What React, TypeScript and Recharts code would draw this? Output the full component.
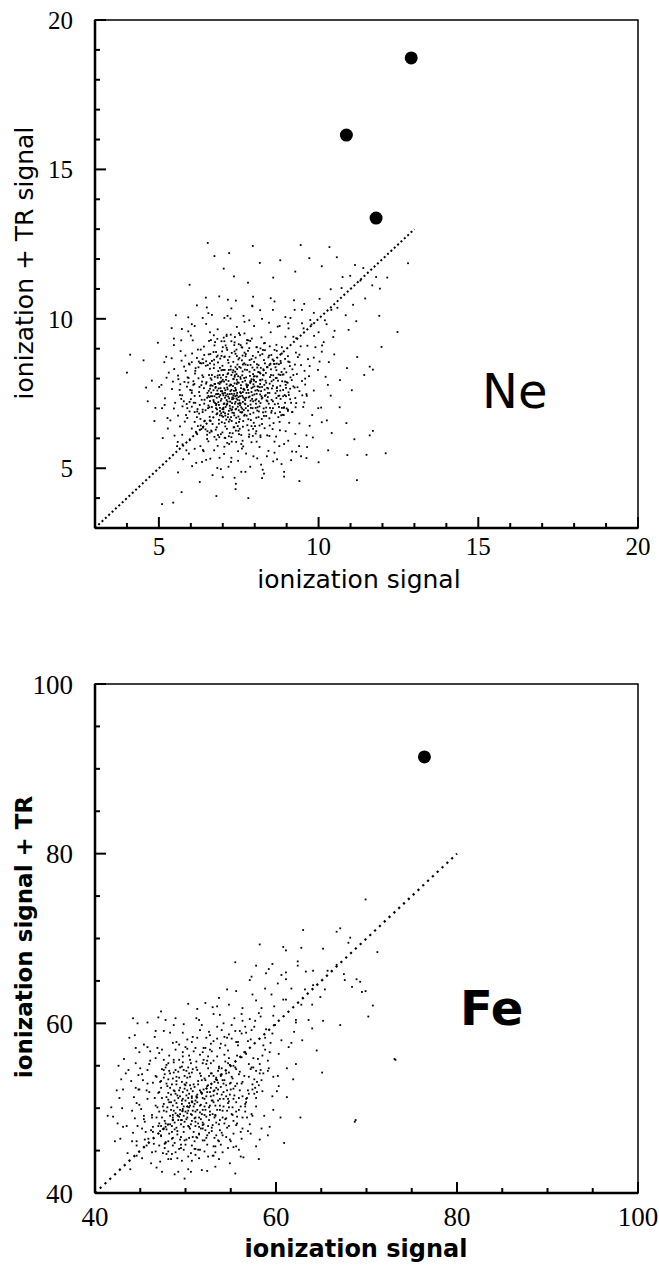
import React from 'react';
import { ScatterChart, Scatter, XAxis, YAxis, ReferenceLine, ReferenceArea, Label } from 'recharts';

// ---------- Ne panel data (ionization signal, ionization + TR signal) ----------
const neTicks = [3, 4, 5, 6, 7, 8, 9, 10, 11, 12, 13, 14, 15, 16, 17, 18, 19, 20];
const neTickLabels = [5, 10, 15, 20];
const neSignal = [
  { x: 12.9, y: 18.73 },
  { x: 10.87, y: 16.15 },
  { x: 11.8, y: 13.37 },
];
const neDiag = [{ x: 3, y: 3 }, { x: 13, y: 13 }];
// background events, values in hundredths ("x:y")
const neCore = `745:752 712:781 768:733 731:705 790:768 702:744 756:799 688:712 821:741 739:823 677:769 803:702 761:688 724:758 795:815 658:738 836:786 716:671 771:847 694:803 748:716 812:759 683:684 729:731 857:724 706:829 779:778 665:796 742:669 826:812 698:758 754:741 719:692 787:726 672:722 804:789 737:784 761:811 691:677 846:752 715:748 772:701 664:753 793:837 727:812 750:694 681:736 818:718 705:717 766:765 733:856 799:747 648:783 775:676 710:796 836:703 686:825 743:733 757:778 722:663 809:774 697:791 869:768 740:838 679:701 785:809 714:716 763:722 673:847 827:831 701:672 748:808 796:686 735:759 658:704 781:752 708:761 841:738 719:829 770:793 692:745 753:664 817:795 687:767 729:697 805:731 760:861 666:812 744:782 788:702 717:740 831:763 699:698 776:829 738:716 663:741 812:845 724:780 752:727 685:854 794:771 707:684 859:796 733:743 769:679 676:782 800:808 740:697 715:815 784:740 656:759 826:687 746:847 696:732 763:755 722:709 851:831 682:697 789:791 731:821 758:704 705:768 815:707 671:761 778:845 749:738 690:812 802:760 736:677 767:802 712:728 839:769 660:725 795:724 727:762 744:875 683:748 808:837 755:688 718:792 773:736 699:843 786:681 741:760 668:689 824:797 709:705 762:824 693:768 844:716 730:686 779:762 675:806 752:839 720:734 798:793 706:651 865:751 734:798 761:742 686:721 816:771 747:706 701:812 784:823 726:671 771:714 663:778 832:742 738:811 694:726 808:693 757:768 716:862 790:755 680:715 746:729 721:776 853:791 702:697 767:851 736:749 692:789 813:724 759:686 674:741 797:807 729:718 744:796 710:743 830:779 688:662 776:771 740:722 662:801 819:836 714:770 754:711 699:751 787:713 733:828 768:762 678:772 806:749 723:700 750:786 696:828 842:767 717:681 764:737 684:810 793:744 741:763 707:736 828:811 671:728 779:693 735:685 756:836 691:702 811:773 728:749 749:673 704:790 799:829 660:766 770:728 737:806 683:760 822:733 715:723 757:751 697:676 848:805 725:841 774:781 689:739 742:699 808:762 711:806 766:695 676:718 790:798 732:775 753:718 701:750 834:745 719:656 762:789 686:785 804:716 743:815 694:758 781:737 727:694 652:752 817:782 739:741 769:830`;
const neBody = `612:742 624:801 637:688 641:768 653:845 659:672 667:741 671:889 678:629 684:803 692:867 697:654 703:715 709:911 713:632 718:853 726:779 731:617 737:891 742:651 749:864 753:632 759:905 764:658 771:875 777:644 783:902 788:661 794:876 801:641 806:905 812:671 817:878 823:648 829:862 834:689 840:838 846:667 851:812 857:701 862:849 868:735 873:793 879:688 884:822 889:762 895:719 900:788 906:754 911:731 916:795 603:706 608:779 614:826 619:671 626:755 631:643 636:811 643:729 648:858 654:701 661:776 665:623 672:835 679:748 685:611 690:782 696:925 702:688 707:752 714:896 719:607 725:830 730:737 736:912 741:626 746:788 752:869 758:611 763:847 769:716 775:918 781:627 786:791 792:732 798:856 803:616 809:704 815:821 820:758 826:896 831:634 837:727 843:871 848:702 854:767 859:651 865:838 870:771 876:705 881:859 887:679 893:833 898:741 904:692 909:855 914:719 628:712 633:778 639:852 646:694 651:736 657:812 662:658 668:776 673:863 679:711 686:749 691:836 695:684 700:796 706:874 711:663 717:818 722:748 728:886 734:637 739:769 745:832 751:655 756:717 762:877 767:676 773:804 779:708 784:862 790:641 796:781 802:727 807:848 813:690 818:794 824:736 829:675 835:819 841:752 847:783 853:729 858:811 864:684 870:759 875:814 881:732 886:791 892:704 897:779 629:852 634:729 642:657 649:788 655:742 660:851 666:705 674:782 681:873 688:649 694:787 701:829 708:676 715:764 721:873 728:658 733:799 740:883 747:641 755:805 761:699 768:887 774:752 780:664 787:846 793:701 799:774 805:669 811:822 817:747 823:772 828:700 834:793 840:724 846:845 852:686 857:776 863:714 869:802 874:742 880:776 885:702 890:814 659:619 676:922 712:942 754:946 791:934 832:919 862:896 895:866 921:774 928:704 908:652 879:627 846:608 806:589 764:573 720:581 684:575 651:612 622:641 596:722 592:787 603:855 631:897`;
const neRing = `910:842 925:770 918:688 897:624 862:589 815:571 760:566 705:572 655:590 616:622 589:668 578:724 580:789 594:850 622:897 663:929 712:947 768:951 821:938 868:913 904:875 940:880 958:800 955:720 940:650 905:592 862:552 808:533 748:525 690:535 640:557 597:594 566:640 547:700 541:765 548:832 568:892 600:944 648:983 705:1003 765:1010 823:1000 878:976 921:940 972:842 985:760 980:678 962:610 930:555 884:514 825:495 758:488 694:497 635:521 586:560 549:609 527:668 519:734 524:803 540:868 570:928 612:976 666:1013 727:1035 793:1042 857:1030 912:1003 953:968 990:905 885:905 932:815 949:744 927:615 877:574 838:540 773:549 727:535 673:560 630:574 603:633 560:676 566:745 560:810 583:877 641:907 684:965 744:973 798:976 850:955 896:940 967:865 963:742 939:574 858:523 786:505 718:505 648:528 612:565 573:612 551:719 544:790 571:860 606:928 660:955 724:1001 783:995 845:987 906:968 944:908 998:829 999:701 972:642 914:527 829:482 737:468 668:477 604:507 557:574 528:633 510:701 508:779 517:855 547:912 592:958 650:1038 716:1064 795:1074 862:1058 925:1030 978:981 1016:922 1032:855 1029:779 1010:654 962:534 892:472 880:812 894:745 883:677 856:631 818:604 762:592 708:601 664:626 630:665 614:719 611:782 624:838 656:881 700:905 750:915 806:905 852:879 869:850 895:790 900:700 867:606 790:587 728:589 674:605 638:636 620:690 603:752 613:817 637:865 679:889 727:925 780:928 832:895 876:848 930:935 965:910 1000:955 948:985 985:1020 1020:995 905:985 955:1050 1040:1030 1010:890 1050:960 985:870`;
const neMid = `598:762 621:698 889:741 912:804 615:835 878:655 633:631 742:588 756:912 587:715 905:857 642:879 869:893 706:602 794:608 567:781 934:771 628:742 891:702 674:911 818:901 612:655 956:826 703:937 783:613 584:826 847:643 651:598 927:735 737:921 596:690 882:852 661:882 758:581 608:791 917:688 689:604 829:918 573:744 948:792 644:659 805:624 725:947 633:851 898:769 681:637 868:828 609:719 779:893 714:585 926:847 590:804 845:877 657:926 962:748 626:683 797:652 698:891 873:716 565:762 751:614 935:872 639:805 822:665 705:925 585:678 887:813 668:648 811:889 743:897 596:847 952:705 652:624 776:929 627:772 903:786 684:877 839:610 574:707 763:639 918:831 619:869 727:604 856:864 642:716 891:678 699:620 832:851 561:798 786:926 647:843 970:808 712:903 600:731 877:743 736:637 824:882 581:656 940:758 666:859 795:632 620:614 885:884 705:872 853:692 588:773 761:904 930:718 637:696 818:610 683:933 911:766 604:884 749:625 866:802 570:732 790:865 655:710 945:845 722:618 836:675 593:802 899:821 680:596 772:882 625:857 958:780 708:640 847:908 612:688 880:760 738:939 579:840 904:696 660:833 815:643 696:876 921:812 646:630 782:605 861:849 603:760 929:887 672:945 803:870 589:701 751:952 874:671 635:790 907:745 694:614`;
const neOuter = `452:861 478:793 501:772 523:873 536:660 489:702 547:934 512:601 465:724 559:588 540:969 497:920 531:820 574:580 553:1012 486:658 518:712 592:1005 572:966 603:982 619:1045 637:1003 655:1019 689:1075 715:1010 741:1061 768:990 792:1044 817:1029 850:1069 872:974 896:1006 923:1062 948:1030 974:996 986:943 1003:1067 1011:911 1025:982 1038:1099 1046:939 1059:1037 1072:1103 1085:1012 1094:963 1108:1047 1118:992 1131:1128 1146:1068 1168:1112 1192:1101 1003:857 1022:806 1038:743 1049:881 1067:795 1089:835 1104:761 1121:872 1143:812 1160:840 1008:703 1026:660 1041:618 1066:704 1087:651 1112:597 1150:545 982:603 964:571 945:540 917:556 892:581 870:530 843:558 820:512 796:540 771:488 748:557 726:521 704:548 683:501 661:532 638:561 617:518 594:549 576:530 560:486 700:470 741:448 823:467 628:454 680:407 571:420 545:385 892:488 940:457 1000:520 1030:560 1120:460 596:1114 647:1071 703:1168 735:1142 779:1121 816:1187 858:1138 880:1196 927:1158 971:1203 1010:1176 1057:1206 1099:1144 1114:1180 674:1210 1160:610`;
const neStray = `410:880 400:820 460:770 510:380 740:430 780:400 653:1254 794:1244 944:1247 1034:1240 720:1220 1190:1010 1247:956 1197:906 1170:830 1210:550 1170:625 1090:544 1140:1170 1280:1186 1075:1140 1180:1140 1215:1138`;

// ---------- Fe panel data ----------
const feTicks = [40, 45, 50, 55, 60, 65, 70, 75, 80, 85, 90, 95, 100];
const feTickLabels = [40, 60, 80, 100];
const feSignal = [{ x: 76.4, y: 91.4 }];
const feDiag = [{ x: 40, y: 40 }, { x: 80, y: 80 }];
// background events, values in tenths ("x:y")
const feCore = `510:505 487:521 532:489 498:478 541:533 479:496 517:538 503:512 526:471 492:543 548:508 474:512 520:522 501:487 537:549 485:479 555:526 496:531 512:466 529:509 481:534 508:497 543:482 490:506 523:552 477:485 535:517 504:541 515:478 494:493 560:543 483:524 527:496 499:462 546:521 472:531 519:512 506:553 538:474 488:509 531:538 511:484 497:519 552:501 478:548 524:468 505:527 540:540 486:492 516:503 493:557 534:483 501:515 549:551 475:502 522:533 509:472 538:511 490:528 557:490 482:470 513:545 528:524 495:481 543:563 471:519 518:493 504:506 536:530 487:542 525:479 500:496 551:537 481:510 514:528 532:465 496:549 546:497 476:476 520:557 507:485 529:541 491:515 541:468 484:498 517:519 502:536 533:503 479:529 554:515 510:461 498:502 525:547 488:483 539:525 506:493 493:536 562:529 474:489 519:476 508:520 531:556 485:464 547:506 500:527 523:490 496:509 536:544 481:518 514:482 545:527 491:473 528:514 503:548 516:495 477:540 553:550 499:484 521:535 511:509 487:497 538:486 494:524 526:501 507:542 483:481 542:519 515:470 498:545 532:531 476:505 519:553 504:478 535:498 492:512 548:542 486:535 517:487 502:521 529:473 480:501 544:555 512:514 495:466 524:526 509:502 536:509 489:545 551:493 473:524 521:511 505:537 530:493 493:490 540:547 484:516 513:465 501:530 527:519 497:499 559:512 478:482 516:541 507:508 534:536 488:475 545:488 499:538 522:498 510:525 537:461 482:544 518:517 496:505 550:530 471:496 525:561 506:481 531:520 490:537 542:502 486:489 514:532 502:494 528:553 479:475 553:523 511:489 494:514 539:538 485:528 519:480 504:517 533:491 497:554 547:511 476:536 523:506 508:546 517:476 491:501 536:522 505:503 526:538 482:507 556:546 513:498 499:528 530:480 488:520 543:533 512:555 495:486 521:492 507:512`;
const feBody = `471:482 476:497 479:513 483:491 486:503 489:517 492:486 494:498 497:511 499:523 502:489 504:501 507:514 509:528 511:496 513:507 516:521 518:533 521:502 523:514 525:527 528:541 530:509 532:521 535:533 537:547 540:516 542:529 545:541 547:553 550:522 552:535 555:548 473:467 478:478 481:461 485:472 488:459 491:469 495:457 498:472 501:463 505:476 508:466 511:479 515:469 519:483 522:474 526:486 529:477 533:492 537:481 541:497 544:487 548:501 552:492 556:507 559:498 563:514 566:505 569:521 467:503 470:518 473:532 476:545 480:526 483:541 487:554 490:532 494:548 497:561 501:544 505:557 509:567 512:548 516:563 520:571 524:556 527:569 531:579 535:561 539:576 543:584 547:568 551:582 555:591 558:574 562:588 566:596 569:579 573:592 577:603 464:478 468:489 472:473 477:458 481:449 486:486 490:477 494:463 498:491 503:479 507:492 511:452 515:489 519:498 523:465 527:503 531:515 534:468 538:498 542:511 546:477 549:516 553:485 557:529 561:502 565:538 568:489 572:546 576:517 580:558 584:533 588:569 592:547 484:507 489:494 493:521 496:486 500:509 503:497 506:523 510:488 513:516 517:504 520:481 524:519 527:492 531:507 534:524 538:503 541:489 545:514 549:529 553:511 556:496 560:521 563:531 567:511 570:537 574:528 578:544 582:552 586:541`;
const feRing = `556:578 567:564 575:548 579:531 578:512 573:493 563:476 549:463 533:455 514:451 495:453 478:460 464:472 454:487 449:504 448:522 452:540 461:556 474:569 490:578 508:584 527:586 546:583 583:608 596:588 603:564 602:538 596:514 587:491 572:470 553:454 531:444 507:438 484:440 463:448 446:461 435:479 430:500 431:522 437:545 449:566 466:584 487:598 512:606 538:610 562:611 611:628 622:604 617:577 612:547 601:520 593:478 561:443 524:426 492:425 468:430 446:444 428:464 420:490 424:521 432:558 444:586 470:607 503:623 537:630 574:634 570:552 559:540 548:559 522:571 502:570 481:553 467:538 460:519 463:489 473:479 486:465 504:465 521:462 540:471 556:480 566:502 574:522 585:520 591:544 562:560 535:596 518:598 497:589 476:591 458:572 445:553 440:532 442:471 457:456 479:446 506:425 537:440 559:451 582:463 597:537 606:580 620:590 598:620 588:641 611:660 632:640 640:622 654:640 667:669 630:710 608:690 546:640 535:620`;
const feMid = `463:492 457:521 446:506 468:537 452:476 471:456 460:552 448:539 455:463 466:512 475:447 489:448 503:443 516:451 530:444 547:453 562:464 571:481 578:502 568:512 581:527 573:548 565:566 558:578 544:574 528:576 511:571 497:566 482:562 469:571 458:545 444:488 451:499 462:474 473:468 486:456 498:451 511:445 524:457 539:457 553:470 566:496 576:534 585:562 572:581 560:591 548:587 535:582 519:566 504:562 489:569 476:557 464:530 455:484 449:522 458:511 469:501 478:459 493:452 507:456 521:449 536:462 550:461 563:489 570:517 582:541 591:556 588:583 576:596 563:603 551:598 538:571 523:583 507:578 493:575 479:551 467:559 453:533 443:513 447:479 459:464 470:479 485:446 500:457 515:441 531:455 545:466 557:482 567:507 579:519 586:574 594:577 599:598 581:612 567:589 554:606 540:592 526:590 513:583 500:572 486:577 474:546 461:567 450:547 441:497 454:491 465:458 477:453 491:441 506:447 519:462 533:448 548:479 561:472 574:491 575:559 589:593 597:609 584:618 571:605 557:562 542:600 529:567 516:592 502:581 487:557 471:565 458:529 445:524 456:472 467:449 481:440 496:438 510:452 525:443 541:448 556:455 569:473 577:524 593:566 583:545`;
const feOuter = `422:461 427:512 431:478 418:501 434:541 426:550 436:447 438:583 441:461 429:534 445:571 439:428 452:441 462:435 474:425 488:422 503:428 518:427 533:431 549:435 564:442 578:455 591:468 605:489 612:513 619:534 603:526 597:498 584:476 614:572 622:601 608:628 595:634 578:627 563:618 548:622 531:611 515:604 498:599 483:589 467:591 454:575 447:600 473:614 522:624 556:638 571:651 589:659 602:647 617:641 628:622 636:604 641:645 633:661 624:673 611:686 596:670 582:693 555:672 649:631 657:662 671:712 680:695 628:689 611:652 652:688 675:658 652:603 689:652 712:684 702:608 699:746 732:557 688:486 695:637 629:580 645:568 651:542 627:489 609:459 581:440 555:423 499:417 472:437 446:456 425:482 414:491 707:621 671:598 622:552 640:594 578:668 530:619 513:617 489:606 478:604 458:601 592:664 573:655 624:668 641:662 606:657`;
const feStray = `676:651 684:643 693:649 699:638 667:708 682:701 731:558 687:484 442:606`;

const parse = (raw: string, scale: number) =>
  raw.trim().split(/\s+/).map((s) => {
    const [a, b] = s.split(':');
    return { x: Number(a) / scale, y: Number(b) / scale };
  });

const neCloud = [
  ...parse(neCore, 100), ...parse(neBody, 100), ...parse(neRing, 100), ...parse(neMid, 100),
  ...parse(neOuter, 100), ...parse(neStray, 100),
];
const feCloud = [
  ...parse(feCore, 10), ...parse(feBody, 10), ...parse(feRing, 10), ...parse(feMid, 10),
  ...parse(feOuter, 10), ...parse(feStray, 10),
];

const SERIF = "'Liberation Serif', 'Times New Roman', serif";
const SANS = "'DejaVu Sans', sans-serif";

const makeXTick = (labels: number[], fs: number, off: number) => (p: any) => {
  const v = p.payload.value;
  const major = labels.includes(v);
  return (
    <g>
      <line x1={p.x} x2={p.x} y1={p.y} y2={p.y - (major ? 11 : 5)} stroke="#000" strokeWidth={2} />
      {major && (
        <text x={p.x} y={p.y + off} textAnchor="middle" fontFamily={SERIF} fontSize={fs} fill="#000">
          {v}
        </text>
      )}
    </g>
  );
};

const makeYTick = (labels: number[], fs: number) => (p: any) => {
  const v = p.payload.value;
  const major = labels.includes(v);
  return (
    <g>
      <line x1={p.x} x2={p.x + (major ? 11 : 5)} y1={p.y} y2={p.y} stroke="#000" strokeWidth={2} />
      {major && (
        <text x={p.x - 22} y={p.y} dy="0.36em" textAnchor="end" fontFamily={SERIF} fontSize={fs} fill="#000">
          {v}
        </text>
      )}
    </g>
  );
};

const cloudDot = (p: any) => (
  <rect x={p.cx - 0.9} y={p.cy - 0.9} width={1.8} height={1.8} fill="#000" />
);
const bigDot = (p: any) => <circle cx={p.cx} cy={p.cy} r={6.5} fill="#000" />;

export default function App() {
  return (
    <div style={{ position: 'absolute', left: 0, top: 0, width: 659, height: 1267, background: '#fff' }}>
      <ScatterChart width={659} height={620} margin={{ top: 20, right: 21, bottom: 0, left: 0 }}>
        <XAxis
          type="number"
          dataKey="x"
          domain={[3, 20]}
          ticks={neTicks}
          interval={0}
          height={92}
          tickSize={0}
          tickMargin={0}
          tickLine={false}
          axisLine={{ stroke: '#000', strokeWidth: 2.5 }}
          tick={makeXTick(neTickLabels, 25, 27)}
        >
          <Label
            content={() => (
              <g>
                <text x={359} y={588} textAnchor="middle" fontFamily={SANS} fontSize={25} fill="#000">
                  ionization signal
                </text>
                <text x={482} y={408} fontFamily={SANS} fontSize={48} fill="#000">
                  Ne
                </text>
              </g>
            )}
          />
        </XAxis>
        <YAxis
          type="number"
          dataKey="y"
          domain={[3, 20]}
          ticks={neTicks}
          interval={0}
          width={95}
          tickSize={0}
          tickMargin={0}
          tickLine={false}
          axisLine={{ stroke: '#000', strokeWidth: 2.5 }}
          tick={makeYTick(neTickLabels, 25)}
        >
          <Label
            content={() => (
              <text transform="translate(33, 263) rotate(-90)" textAnchor="middle" fontFamily={SANS} fontSize={25} fill="#000">
                ionization + TR signal
              </text>
            )}
          />
        </YAxis>
        <ReferenceArea x1={3} x2={20} y1={3} y2={20} fill="none" stroke="#000" strokeWidth={1.5} fillOpacity={0} />
        <Scatter data={neCloud} shape={cloudDot} isAnimationActive={false} />
        <ReferenceLine segment={neDiag} stroke="#000" strokeWidth={2} strokeDasharray="2 2.6" />
        <Scatter data={neSignal} shape={bigDot} isAnimationActive={false} />
      </ScatterChart>

      <ScatterChart width={659} height={647} margin={{ top: 64, right: 21, bottom: 0, left: 0 }}>
        <XAxis
          type="number"
          dataKey="x"
          domain={[40, 100]}
          ticks={feTicks}
          interval={0}
          height={74}
          tickSize={0}
          tickMargin={0}
          tickLine={false}
          axisLine={{ stroke: '#000', strokeWidth: 2.5 }}
          tick={makeXTick(feTickLabels, 27, 33)}
        >
          <Label
            content={() => (
              <g>
                <text x={356} y={637} textAnchor="middle" fontFamily={SANS} fontWeight="bold" fontSize={24} fill="#000">
                  ionization signal
                </text>
                <text x={460} y={405} fontFamily={SANS} fontWeight="bold" fontSize={48} fill="#000">
                  Fe
                </text>
              </g>
            )}
          />
        </XAxis>
        <YAxis
          type="number"
          dataKey="y"
          domain={[40, 100]}
          ticks={feTicks}
          interval={0}
          width={95}
          tickSize={0}
          tickMargin={0}
          tickLine={false}
          axisLine={{ stroke: '#000', strokeWidth: 2.5 }}
          tick={makeYTick(feTickLabels, 27)}
        >
          <Label
            content={() => (
              <text transform="translate(32, 317) rotate(-90)" textAnchor="middle" fontFamily={SANS} fontWeight="bold" fontSize={23} fill="#000">
                ionization signal + TR
              </text>
            )}
          />
        </YAxis>
        <ReferenceArea x1={40} x2={100} y1={40} y2={100} fill="none" stroke="#000" strokeWidth={1.5} fillOpacity={0} />
        <Scatter data={feCloud} shape={cloudDot} isAnimationActive={false} />
        <ReferenceLine segment={feDiag} stroke="#000" strokeWidth={2.2} strokeDasharray="2.2 4.4" />
        <Scatter data={feSignal} shape={bigDot} isAnimationActive={false} />
      </ScatterChart>
    </div>
  );
}
